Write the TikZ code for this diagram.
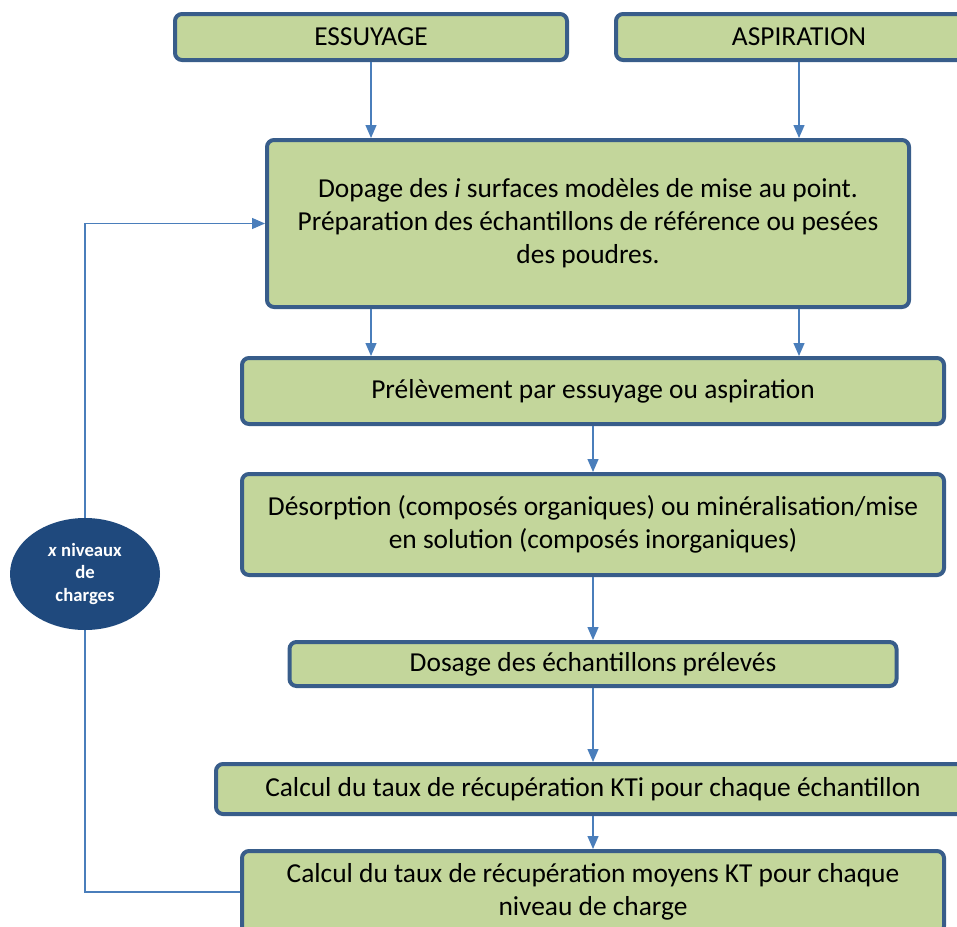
\documentclass[tikz,border=0pt]{standalone}
\usepackage{fontspec}
\setmainfont{Carlito}
\usetikzlibrary{arrows.meta,shapes.geometric,backgrounds}
\definecolor{boxfill}{HTML}{C3D69B}
\definecolor{boxline}{HTML}{385D8A}
\definecolor{arrline}{HTML}{4A7EBB}
\definecolor{ovalfill}{HTML}{1F497D}
\begin{document}
\begin{tikzpicture}[x=1pt,y=-1pt,
  step box/.style={draw=boxline,fill=boxfill,line width=4pt,rounded corners=7pt,
    align=center,inner sep=0pt,font=\fontsize{27.4}{33}\selectfont},
  arr/.style={draw=arrline,line width=1.3pt,-{Triangle[width=11pt,length=13pt]}}]
\useasboundingbox (0,0) rectangle (957,926);
\clip (0,0) rectangle (957,926);
\node[step box,minimum width=392,minimum height=46] (ess) at (371,37) {ESSUYAGE};
\node[step box,minimum width=366,minimum height=46] (asp) at (799,37) {ASPIRATION};
\node[step box,minimum width=642,minimum height=167] (dop) at (588,223.5)
  {Dopage des \textit{i} surfaces modèles de mise au point.\\
   Préparation des échantillons de référence ou pesées\\
   des poudres.};
\node[step box,minimum width=702,minimum height=66] (prel) at (593,391)
  {Prélèvement par essuyage ou aspiration};
\node[step box,minimum width=702,minimum height=101] (des) at (593,524.5)
  {Désorption (composés organiques) ou minéralisation/mise\\
   en solution (composés inorganiques)};
\node[step box,minimum width=607,minimum height=44] (dos) at (593,664)
  {Dosage des échantillons prélevés};
\node[step box,minimum width=754,minimum height=50] (kti) at (593,789)
  {Calcul du taux de récupération KTi pour chaque échantillon};
\node[step box,minimum width=702,minimum height=82] (kt) at (593,892)
  {Calcul du taux de récupération moyens KT pour chaque\\
   niveau de charge};
\node[ellipse,fill=ovalfill,text=white,minimum width=150,minimum height=112,inner sep=0pt,
  align=center,font=\fontsize{18.7}{22.5}\selectfont\bfseries] (niv) at (85,574)
  {\textit{x} niveaux\\de\\charges};
\draw[arr] (ess) -- (ess |- dop.north);
\draw[arr] (asp) -- (asp |- dop.north);
\draw[arr] (dop.south -| ess) -- (prel.north -| ess);
\draw[arr] (dop.south -| asp) -- (prel.north -| asp);
\draw[arr] (prel) -- (des);
\draw[arr] (des) -- (dos);
\draw[arr] (dos) -- (kti);
\draw[arr] (kti) -- (kt);
\begin{scope}[on background layer]
\draw[arr] (kt.west) -| (niv.center) |- (dop.west);
\end{scope}
\end{tikzpicture}
\end{document}
